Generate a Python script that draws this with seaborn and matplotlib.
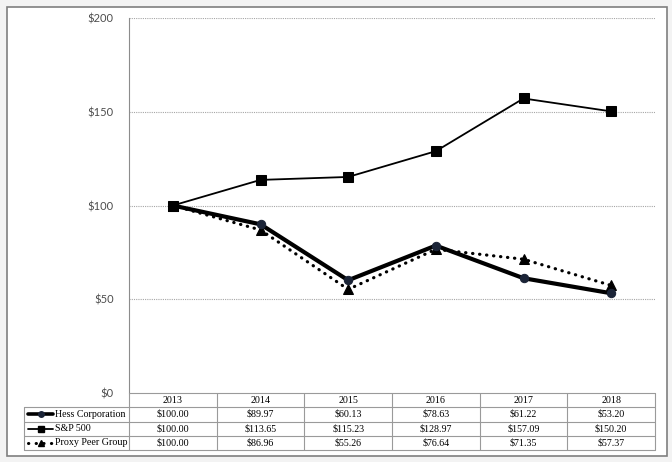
import numpy as np
import matplotlib
matplotlib.use("Agg")
import matplotlib.pyplot as plt
import seaborn as sns
from matplotlib.patches import Rectangle
from matplotlib.lines import Line2D

# data
years = ["2013", "2014", "2015", "2016", "2017", "2018"]
hess = [100.00, 89.97, 60.13, 78.63, 61.22, 53.20]
sp500 = [100.00, 113.65, 115.23, 128.97, 157.09, 150.20]
peers = [100.00, 86.96, 55.26, 76.64, 71.35, 57.37]
series_names = ["Hess Corporation", "S&P 500", "Proxy Peer Group"]
yticks = [0, 50, 100, 150, 200]

sns.set_style("white")
plt.rcParams["font.family"] = ["Lato", "DejaVu Sans"]

W, H = 672, 462
fig = plt.figure(figsize=(W / 100, H / 100), dpi=100)
fig.patch.set_facecolor("#f3f3f3")

# white frame around everything
fig.patches.append(Rectangle((7 / W, 1 - 456 / H), 660 / W, 449 / H,
                             transform=fig.transFigure, facecolor="white",
                             edgecolor="#7f7f7f", linewidth=1.2, zorder=-10))

# main plot area
L, R, T, B = 129, 655, 18, 393
ax = fig.add_axes([L / W, 1 - B / H, (R - L) / W, (B - T) / H])
ax.set_facecolor("white")
x = np.arange(len(years))

dotted = (0, (0.1, 2.1))
sns.lineplot(x=x, y=peers, ax=ax, color="black", linewidth=2.3,
             linestyle=dotted, dash_capstyle="round", marker="^", markersize=7,
             markeredgecolor="black", zorder=3)
sns.lineplot(x=x, y=hess, ax=ax, color="black", linewidth=3.0,
             marker="o", markersize=6, markerfacecolor="#1b2437",
             markeredgecolor="#1b2437", zorder=4)
sns.lineplot(x=x, y=sp500, ax=ax, color="black", linewidth=1.3,
             marker="s", markersize=6.5, markeredgecolor="black", zorder=5)

ax.set_xlim(-0.5, len(years) - 0.5)
ax.set_ylim(0, 200)
ax.set_yticks(yticks)
ax.set_yticklabels(["$" + str(v) for v in yticks], fontsize=8, color="#4d4d4d")
ax.set_xticks([])
ax.tick_params(axis="y", length=0, pad=11)
for v in yticks[1:]:
    ax.axhline(v, color="#a6a6a6", linewidth=0.8, linestyle=(0, (1, 1)), zorder=1)
for s in ["top", "right", "bottom"]:
    ax.spines[s].set_visible(False)
ax.spines["left"].set_color("#8c8c8c")
ax.spines["left"].set_linewidth(0.8)

# data table below the plot
TL, TB = 24, 450
unit = (R - L) / len(years)
lab_w = (L - TL) / unit
tax = fig.add_axes([TL / W, 1 - TB / H, (R - TL) / W, (TB - B) / H])
tax.set_xlim(-0.5 - lab_w, len(years) - 0.5)
tax.set_ylim(4, 0)
tax.axis("off")

gc = "#9a9a9a"
# header row spans only the data columns
tax.plot([-0.5, len(years) - 0.5], [0, 0], color=gc, lw=0.8, clip_on=False)
for r in range(1, 5):
    tax.plot([-0.5 - lab_w, len(years) - 0.5], [r, r], color=gc, lw=0.8, clip_on=False)
tax.plot([-0.5 - lab_w, -0.5 - lab_w], [1, 4], color=gc, lw=0.8, clip_on=False)
for c in range(len(years) + 1):
    tax.plot([c - 0.5, c - 0.5], [0, 4], color=gc, lw=0.8, clip_on=False)

tfont = dict(family="Liberation Serif", fontsize=7.2, color="black")
for c, yr in enumerate(years):
    tax.text(c, 0.5, yr, ha="center", va="center", **tfont)
for r, vals in enumerate([hess, sp500, peers], start=1):
    for c, v in enumerate(vals):
        tax.text(c, r + 0.5, "${:.2f}".format(v), ha="center", va="center", **tfont)

# row labels with small legend glyphs
gx0 = -0.5 - lab_w + 4 / unit
gx1 = gx0 + 25 / unit
gm = (gx0 + gx1) / 2
styles = [
    dict(color="black", lw=2.6, marker="o", ms=4, mfc="#1b2437", mec="#1b2437"),
    dict(color="black", lw=1.3, marker="s", ms=4.5, mfc="black", mec="black"),
    dict(color="black", lw=2.2, linestyle=(0, (0.1, 2.4)), dash_capstyle="round",
         marker="^", ms=5, mfc="black", mec="black"),
]
for r, (name, st) in enumerate(zip(series_names, styles), start=1):
    st = dict(st)
    mk = st.pop("marker")
    ms = st.pop("ms")
    mfc = st.pop("mfc")
    mec = st.pop("mec")
    tax.add_line(Line2D([gx0, gx1], [r + 0.5, r + 0.5], clip_on=False, **st))
    tax.add_line(Line2D([gm], [r + 0.5], marker=mk, markersize=ms,
                        markerfacecolor=mfc, markeredgecolor=mec,
                        linestyle="none", clip_on=False))
    tax.text(gx1 + 2 / unit, r + 0.5, name, ha="left", va="center", **tfont)

fig.savefig("out.png", dpi=100, facecolor=fig.get_facecolor())
